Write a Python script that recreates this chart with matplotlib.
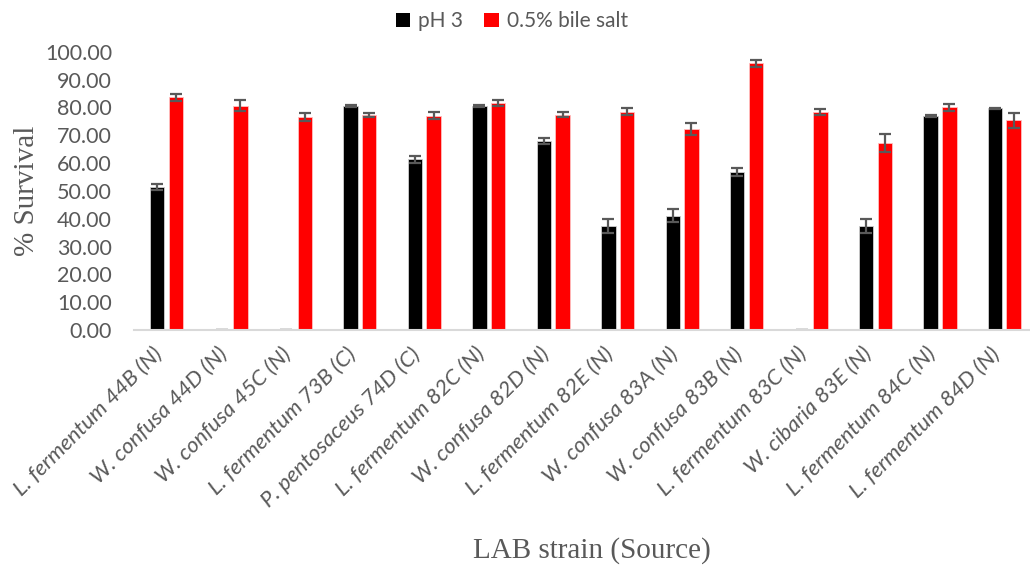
import numpy as np
import matplotlib.pyplot as plt
import matplotlib.transforms as mtransforms

# Survival of LAB strains at pH 3 and in 0.5% bile salt
szczepy = ["L. fermentum 44B (N)", "W. confusa 44D (N)", "W. confusa 45C (N)",
           "L. fermentum 73B (C)", "P. pentosaceus 74D (C)", "L. fermentum 82C (N)",
           "W. confusa 82D (N)", "L. fermentum 82E (N)", "W. confusa 83A (N)",
           "W. confusa 83B (N)", "L. fermentum 83C (N)", "W. cibaria 83E (N)",
           "L. fermentum 84C (N)", "L. fermentum 84D (N)"]
ph3 = [51.3, 0.0, 0.0, 80.6, 61.4, 80.6, 67.9, 37.4, 41.1, 56.7, 0.0, 37.4, 76.9, 79.6]
ph3_err = [1.0, 0.0, 0.0, 0.3, 1.3, 0.3, 1.2, 2.5, 2.4, 1.4, 0.0, 2.5, 0.4, 0.3]
zolc = [83.6, 80.6, 76.5, 77.3, 77.0, 81.5, 77.3, 78.4, 72.2, 95.8, 78.3, 67.2, 80.0, 75.4]
zolc_err = [1.2, 2.0, 1.5, 0.8, 1.2, 1.0, 0.9, 1.3, 2.0, 1.2, 1.1, 3.2, 1.2, 2.7]
yticks = np.arange(0, 101, 10)

szary = "#595959"
fig = plt.figure(figsize=(10.30, 5.71), dpi=100)
ax = fig.add_axes([0.1304, 0.422, 0.876, 0.4875])

x = np.arange(len(szczepy))
szer = 0.225
opcjeBledu = dict(ecolor=szary, elinewidth=1.6, capsize=4, capthick=1.6)
ax.bar(x - 0.145, ph3, szer, color="black", edgecolor="#d0d0d0", linewidth=0.6,
       yerr=ph3_err, error_kw=opcjeBledu, label="pH 3")
ax.bar(x + 0.145, zolc, szer, color="#ff0000", edgecolor="#ffc0c0", linewidth=0.6,
       yerr=zolc_err, error_kw=opcjeBledu, label="0.5% bile salt")

ax.set_xlim(-0.5, len(szczepy) - 0.5)
ax.set_ylim(0, 100)
ax.set_yticks(yticks)
ax.set_yticklabels([f"{v:.2f}" for v in yticks], fontsize=15.5, color=szary, family="Lato")
ax.set_xticks(x)
ax.set_xticklabels(szczepy, rotation=45, ha="right",
                   fontsize=16, color=szary, family="Lato", style="italic")
# przesuniecie etykiet osi X troche w prawo
przes = mtransforms.ScaledTranslation(9 / 100, 0, fig.dpi_scale_trans)
for lab in ax.get_xticklabels():
    lab.set_transform(lab.get_transform() + przes)
ax.tick_params(axis="both", length=0)
ax.tick_params(axis="y", pad=16)
ax.tick_params(axis="x", pad=10)

for s in ["top", "right", "left"]:
    ax.spines[s].set_visible(False)
ax.spines["bottom"].set_color("#d9d9d9")
ax.spines["bottom"].set_linewidth(1.5)

ax.set_ylabel("% Survival", fontsize=21, color=szary, family="Liberation Serif")
ax.yaxis.set_label_coords(-0.105, 0.5)
fig.text(0.575, 0.035, "LAB strain (Source)", fontsize=21, color=szary,
         family="Liberation Serif", ha="center", va="center")

leg = fig.legend(loc="center", bbox_to_anchor=(0.497, 0.963), ncol=2, frameon=False,
                 handlelength=0.7, handleheight=0.7, handletextpad=0.4, columnspacing=1.0,
                 prop={"family": "Lato", "size": 15})
for t in leg.get_texts():
    t.set_color(szary)
for h in leg.legend_handles:
    h.set_edgecolor("none")

fig.savefig("out.png", dpi=100)
